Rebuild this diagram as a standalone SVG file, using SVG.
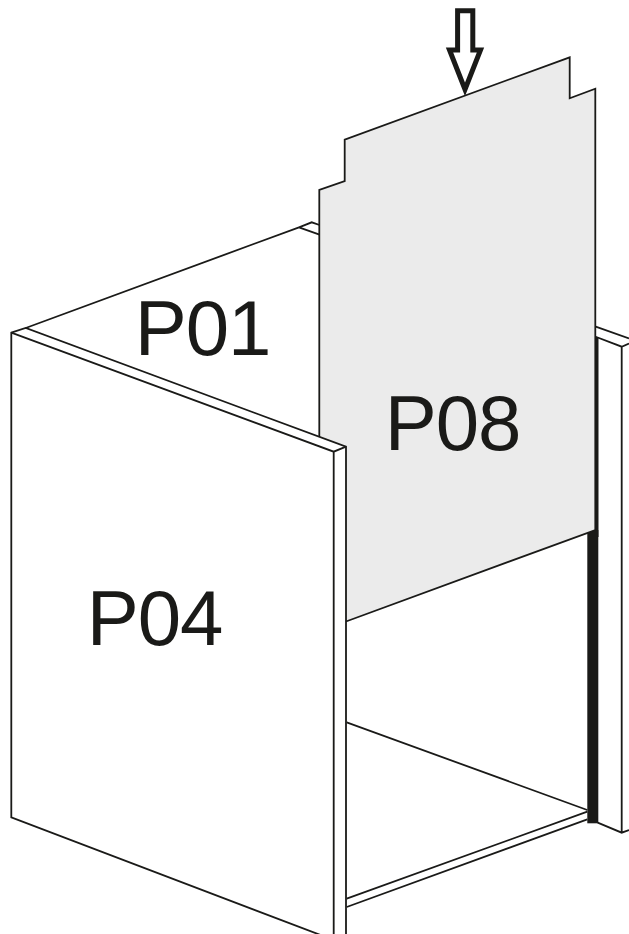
<svg xmlns="http://www.w3.org/2000/svg" width="629" height="934" viewBox="0 0 629 934">
<style>
.l{fill:none;stroke:#1a1a18;stroke-width:1.8;stroke-linejoin:miter}
.w{fill:#fff;stroke:#1a1a18;stroke-width:1.8}
.t{font-family:"Liberation Sans",Arial,sans-serif;font-size:78px;letter-spacing:-1px;fill:#1a1a18}
</style>
<rect width="629" height="934" fill="#fff"/>
<g id="P01">
<path class="l" d="M25.7 328L299 227.3L311.7 222.3L319.5 225M299 227.3L319.5 234.7"/>
<text class="t" x="134.7" y="355">P01</text>
</g>
<g id="right-panel">
<path class="l" d="M595 326.3L629 338.5M595 336.5L621.7 346.7L629 343.5M621.7 346.7V832.7M597.7 822.7L621.7 832.7L629 830"/>
<rect x="595" y="337" width="3.5" height="200" fill="#1a1a18"/>
<rect x="587.3" y="530" width="11" height="293.3" fill="#1a1a18"/>
</g>
<g id="P05">
<path class="l" d="M346.7 722.3L587.3 810M346.7 898.7L587.3 811.7M346.7 907L587.3 819.3"/>
</g>
<g id="P08">
<path d="M319.3 438V190L344.7 181V139.7L569.7 57.3V98.3L595.3 88.7V530L346 621.5V445Z" fill="#ebebeb"/>
<path class="l" d="M319.3 438V190L344.7 181V139.7L569.7 57.3V98.3L595.3 88.7V530L346 621.5"/>
<text class="t" x="384.7" y="450.3">P08</text>
</g>
<g id="P04">
<path class="w" d="M11.3 332.7L25.7 328L346 446.7V940H333.7L11.3 817.3Z"/>
<path class="l" d="M11.3 332.7L333.7 451.7L346 446.7M333.7 451.7V940"/>
<text class="t" x="86.7" y="645.3">P04</text>
</g>
<g id="arrow">
<path d="M457.6 10.8H472.8V50H480.5L465 89.5L449.5 50H457.6Z" fill="#fff" stroke="#1a1a18" stroke-width="5"/>
</g>
</svg>
